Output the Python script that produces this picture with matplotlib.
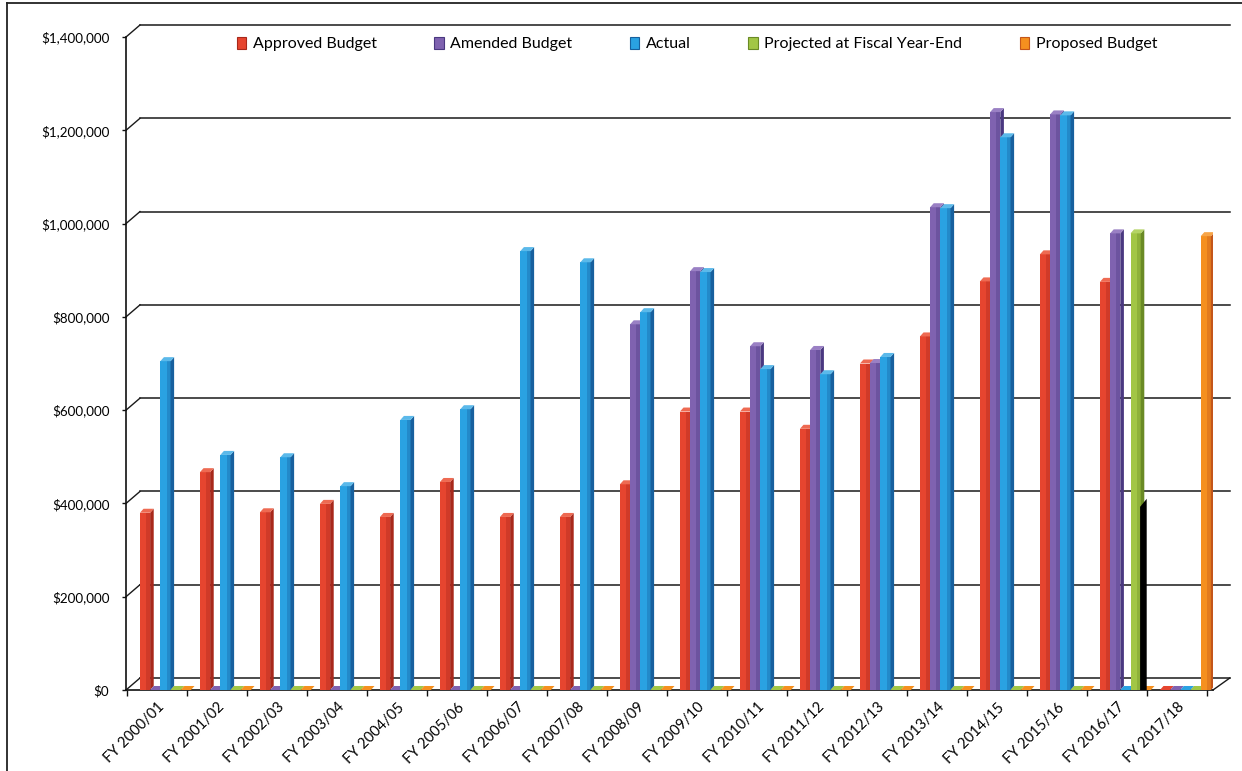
import matplotlib.pyplot as plt
from matplotlib.patches import Patch
from matplotlib.lines import Line2D
from matplotlib.transforms import ScaledTranslation
import numpy as np

plt.rcParams['font.family'] = ['Lato', 'DejaVu Sans']

years = ["FY 2000/01", "FY 2001/02", "FY 2002/03", "FY 2003/04", "FY 2004/05",
         "FY 2005/06", "FY 2006/07", "FY 2007/08", "FY 2008/09", "FY 2009/10",
         "FY 2010/11", "FY 2011/12", "FY 2012/13", "FY 2013/14", "FY 2014/15",
         "FY 2015/16", "FY 2016/17", "FY 2017/18"]

approved = [380000, 467000, 381000, 399000, 371000, 446000, 371000, 371000, 441000,
            597000, 597000, 560000, 700000, 758000, 876000, 934000, 875000, 0]
amended = [0, 0, 0, 0, 0, 0, 0, 0, 784000,
           898000, 737000, 729000, 701000, 1035000, 1239000, 1234000, 979000, 0]
actual = [705000, 504000, 499000, 437000, 579000, 602000, 941000, 917000, 810000,
          896000, 688000, 677000, 714000, 1033000, 1185000, 1232000, 0, 0]
projected = [0] * 16 + [979000, 0]
proposed = [0] * 17 + [973000]

series_names = ["Approved Budget", "Amended Budget", "Actual",
                "Projected at Fiscal Year-End", "Proposed Budget"]
y_ticks = [0, 200000, 400000, 600000, 800000, 1000000, 1200000, 1400000]
y_labels = ["$0", "$200,000", "$400,000", "$600,000", "$800,000",
            "$1,000,000", "$1,200,000", "$1,400,000"]

# front, side, top colours for each series
colors = [("#e6452f", "#a8281b", "#ee6a52"),
          ("#7f62b0", "#4a3880", "#9a80c4"),
          ("#2aa2e2", "#17609e", "#5bb9ea"),
          ("#a2c645", "#6a8a25", "#b5d466"),
          ("#f5901f", "#c4561a", "#f7a548")]
offsets = [-0.20, -0.03, 0.14, 0.31, 0.48]

fig = plt.figure(figsize=(12.42, 7.71), dpi=100)
ax = fig.add_axes([126 / 1242, 81 / 771, 1087 / 1242, 653 / 771])
ax.set_xlim(-0.517, 17.6)
ax.set_ylim(0, 1400000)

x = np.arange(len(years))
w = 0.17          # front face width
sx = 0.06         # side depth in x
sy = 8600         # side depth in y
bx = 0.233        # back wall offset in x
by = 25700        # back wall offset in y

# back wall gridlines and the little connectors to the front axis
for v in y_ticks:
    ax.plot([-0.517 + bx, 17.88], [v + by, v + by], color="#1a1a1a", lw=1.1,
            clip_on=False, zorder=1)
    ax.plot([-0.517, -0.517 + bx], [v, v + by], color="#1a1a1a", lw=1.0,
            clip_on=False, zorder=1)
ax.plot([17.6, 17.88], [0, by], color="#1a1a1a", lw=1.0, clip_on=False, zorder=1)

all_series = [approved, amended, actual, projected, proposed]
for i in range(len(x)):
    for s, vals in enumerate(all_series):
        h = vals[i]
        front, side, top = colors[s]
        x0 = x[i] + offsets[s] - w / 2
        x1 = x0 + w
        z = 3 + i * 0.01 + s * 0.001
        if h > 0:
            ax.bar(x0, h, width=w, align="edge", color=front, linewidth=0, zorder=z)
            ax.bar(x0 + w * 0.62, h, width=w * 0.38, align="edge", color=side,
                   alpha=0.35, linewidth=0, zorder=z)
            ax.fill([x1, x1 + sx, x1 + sx, x1], [0, sy, h + sy, h],
                    color=side, linewidth=0, zorder=z)
            ax.fill([x0, x1, x1 + sx, x0 + sx], [h, h, h + sy, h + sy],
                    color=top, linewidth=0, zorder=z)
        else:
            ax.fill([x0, x1, x1 + sx, x0 + sx], [0, 0, sy, sy],
                    color=front, linewidth=0, zorder=z, clip_on=False)

# dark streak on the side of the projected bar (scan artefact in the source)
gi = 16
gx1 = x[gi] + offsets[3] + w / 2
gh = projected[gi] * 0.41
ax.fill([gx1 - 0.01, gx1 + sx + 0.04, gx1 + sx + 0.04, gx1 - 0.01],
        [0, 0, gh + sy, gh - sy], color="black", linewidth=0, zorder=4)

# axes styling
for sp in ["top", "right"]:
    ax.spines[sp].set_visible(False)
ax.spines["left"].set_color("#111111")
ax.spines["bottom"].set_color("#111111")
ax.spines["left"].set_linewidth(1.2)
ax.spines["bottom"].set_linewidth(1.2)

ax.set_yticks(y_ticks)
ax.set_yticklabels(y_labels, fontsize=9.6)
ax.tick_params(axis="y", length=3, width=1, pad=9, color="#111111")

ax.set_xticks(x)
ax.set_xticklabels(years, fontsize=10.5, rotation=45, ha="right",
                   va="center", rotation_mode="anchor")
ax.set_xticks(np.arange(len(years) + 1) - 0.5, minor=True)
ax.tick_params(axis="x", which="major", length=0, pad=11)
ax.tick_params(axis="x", which="minor", length=4, width=1, color="#111111")
shift = ScaledTranslation(5 / 100, 0, fig.dpi_scale_trans)
for lab in ax.get_xticklabels():
    lab.set_transform(lab.get_transform() + shift)

handles = [Patch(facecolor=c[0], edgecolor=c[1], linewidth=0.8) for c in colors]
fig.legend(handles, series_names, loc="center", bbox_to_anchor=(697 / 1242, 1 - 44 / 771),
           ncol=5, frameon=False, fontsize=11.5, handlelength=0.6,
           handleheight=0.8, handletextpad=0.4, columnspacing=3.6)

# page border (left and top edges only)
fig.add_artist(Line2D([7 / 1242, 7 / 1242], [0, 1 - 3 / 771], transform=fig.transFigure,
                      color="#222222", lw=1.3))
fig.add_artist(Line2D([7 / 1242, 1], [1 - 3 / 771, 1 - 3 / 771], transform=fig.transFigure,
                      color="#222222", lw=1.3))

fig.savefig("out.png", dpi=100)
